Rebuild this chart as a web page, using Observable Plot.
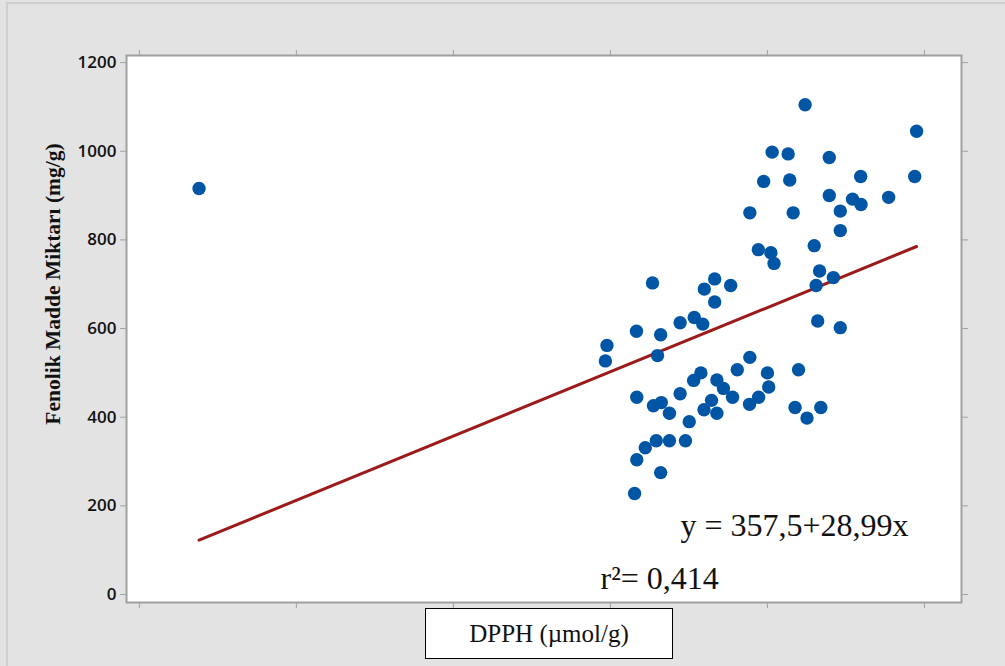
<!DOCTYPE html>
<html>
<head>
<meta charset="utf-8">
<script src="https://cdn.jsdelivr.net/npm/d3@7"></script>
<script src="https://cdn.jsdelivr.net/npm/@observablehq/plot@0.6"></script>
<style>
  html, body { margin: 0; padding: 0; background: #e3e3e3; }
  #wrap { position: relative; width: 1005px; height: 666px; overflow: hidden; background: #e3e3e3; }
  #outer { position: absolute; left: 6px; top: 2px; width: 1020px; height: 700px; border: 2px solid #cfcfcf; box-sizing: border-box; }
  #chart { position: absolute; left: 0; top: 0; }
  #xlabel { position: absolute; left: 425px; top: 608px; width: 248px; height: 51px; box-sizing: border-box;
            border: 1.5px solid #000; background: #fff; display: flex; align-items: center; justify-content: center;
            font-family: "Liberation Serif", "Times New Roman", serif; font-size: 25px; color: #111; }
</style>
</head>
<body>
<div id="wrap">
  <div id="outer"></div>
  <div id="chart"></div>
  <div id="xlabel">DPPH (µmol/g)</div>
</div>
<script>
// DPPH (µmol/g) values
const dpph = [-8.1, 11.2, 14.75, 10.15, 10.66, 11.97, 9.88, 10.71, 12.97, 14.69,
  11.97, 12.71, 12.98, 13.86, 12.32, 10.82, 9.44, 12.32, 9.71, 10.11,
  10.21, 11.49, 11.66, 12.10, 11.55, 6.34, 8.32, 7.99, 8.83, 8.32,
  7.67, 7.94, 7.22, 5.83, 6.60, 4.89, 4.84, 6.50, 11.60, 12.32,
  9.44, 9.04, 10.0, 7.88, 7.65, 8.39, 8.60, 10.04, 5.84, 7.22,
  8.89, 9.72, 9.43, 6.62, 6.37, 8.22, 7.98, 8.39, 6.88, 7.51,
  10.99, 10.88, 11.70, 11.26, 6.46, 6.88, 7.39, 6.11, 5.84, 6.60, 5.77];
// Fenolik Madde Miktarı (mg/g) values
const fenolik = [916, 1105, 1045, 998, 994, 986, 932, 935, 943, 943,
  900, 892, 880, 896, 865, 861, 861, 821, 778, 771,
  747, 787, 730, 715, 697, 703, 712, 689, 697, 660,
  625, 610, 613, 594, 586, 562, 527, 539, 617, 602,
  535, 507, 500, 500, 483, 484, 465, 468, 445, 453,
  445, 445, 429, 433, 426, 438, 417, 409, 409, 390,
  507, 422, 422, 398, 347, 347, 347, 331, 304, 275, 228];
const xTicks = [-10, -5, 0, 5, 10, 15];
const yTicks = [0, 200, 400, 600, 800, 1000, 1200];
const intercept = 357.5;
const slope = 28.99;
const equationText = "y = 357,5+28,99x";
const r2Text = "r²= 0,414";
const yLabel = "Fenolik Madde Miktarı (mg/g)";

const points = dpph.map((x, i) => ({x, y: fenolik[i]}));
const fit = d3.extent(dpph).map(x => ({x, y: intercept + slope * x}));

const grey = "#a0a0a0";
const chart = Plot.plot({
  width: 1005,
  height: 666,
  marginLeft: 126,
  marginRight: 44,
  marginTop: 55,
  marginBottom: 64,
  style: {background: "transparent", overflow: "visible"},
  x: {domain: [-10.41, 16.18], axis: null, label: null},
  y: {domain: [-18, 1216], axis: null, label: null},
  marks: [
    Plot.frame({fill: "white", stroke: "none"}),
    Plot.axisY(yTicks, {anchor: "left", tickSize: 6, tickPadding: 4, tickFormat: d => String(d),
      stroke: grey, fill: "#111", fontSize: 17, fontWeight: 600, fontFamily: "Open Sans", label: null}),
    Plot.axisY(yTicks, {anchor: "right", tickSize: 6, tickFormat: () => "", stroke: grey, label: null}),
    Plot.axisX(xTicks, {anchor: "bottom", tickSize: 6, tickFormat: () => "", stroke: grey, label: null}),
    Plot.axisX(xTicks, {anchor: "top", tickSize: 6, tickFormat: () => "", stroke: grey, label: null}),
    Plot.line(fit, {x: "x", y: "y", stroke: "#9c1a1a", strokeWidth: 3}),
    Plot.dot(points, {x: "x", y: "y", r: 6.7, fill: "#0055a5", stroke: "none"}),
    Plot.frame({stroke: grey, strokeWidth: 2}),
    Plot.text([yLabel], {frameAnchor: "left", textAnchor: "middle", lineAnchor: "middle", dx: -73, dy: -45,
      rotate: -90, fontSize: 21.5, fontWeight: "bold", fontFamily: "Liberation Serif", fill: "#111"}),
    Plot.text([equationText], {frameAnchor: "bottom-left", textAnchor: "start", lineAnchor: "bottom",
      dx: 554, dy: -67, fontSize: 32, fontFamily: "Liberation Serif", fill: "#111"}),
    Plot.text([r2Text], {frameAnchor: "bottom-left", textAnchor: "start", lineAnchor: "bottom",
      dx: 474, dy: -14, fontSize: 32, fontFamily: "Liberation Serif", fill: "#111"})
  ]
});
document.getElementById("chart").appendChild(chart);
</script>
</body>
</html>
